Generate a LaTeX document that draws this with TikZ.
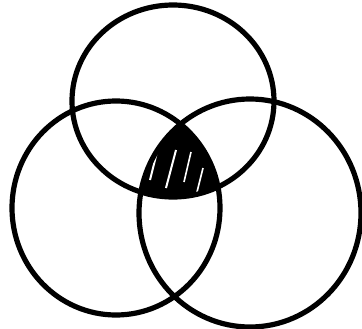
\documentclass[tikz,border=0pt]{standalone}
\begin{document}
\begin{tikzpicture}[x=0.25mm,y=0.25mm,line width=1.3mm]
  \useasboundingbox (0,0) rectangle (362,328);

  % 三个集合的圆心
  \coordinate (T) at (173,227);
  \coordinate (L) at (116,120);
  \coordinate (R) at (250,115);

  % 三者公共部分涂黑
  \begin{scope}
    \clip (T) ellipse (101 and 96);
    \clip (L) ellipse (104 and 107);
    \fill (R) ellipse (111 and 114);
    % 涂抹留下的白色细纹
    \draw[white,line width=0.5mm] (150,148) -- (160,188);
    \draw[white,line width=0.5mm] (166,140) -- (176,178);
    \draw[white,line width=0.4mm] (184,146) -- (191,176);
    \draw[white,line width=0.4mm] (197,136) -- (203,160);
  \end{scope}

  % 三个圆
  \draw (T) ellipse (101 and 96);
  \draw (L) ellipse (104 and 107);
  \draw (R) ellipse (111 and 114);
\end{tikzpicture}
\end{document}
